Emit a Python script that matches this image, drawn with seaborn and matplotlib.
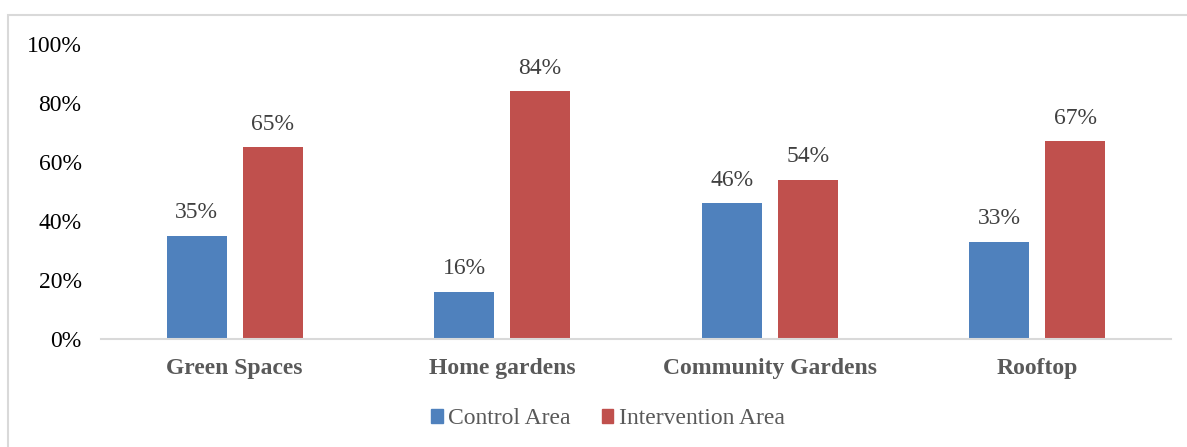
import matplotlib
matplotlib.use("Agg")
import matplotlib.pyplot as plt
import matplotlib.patches as mpatches
import seaborn as sns
import pandas as pd

categories = ["Green Spaces", "Home gardens", "Community Gardens", "Rooftop"]
series_names = ["Control Area", "Intervention Area"]
control = [0.35, 0.16, 0.46, 0.33]
intervention = [0.65, 0.84, 0.54, 0.67]
y_ticks = [0, 0.2, 0.4, 0.6, 0.8, 1.0]
y_tick_labels = ["0%", "20%", "40%", "60%", "80%", "100%"]

df = pd.DataFrame({
    "category": categories * 2,
    "area": [series_names[0]] * len(categories) + [series_names[1]] * len(categories),
    "share": control + intervention,
})

sns.set_theme(style="white")
plt.rcParams["font.family"] = ["Liberation Serif", "DejaVu Serif"]

FS = 17

fig = plt.figure(figsize=(11.87, 4.47), dpi=100)
ax = fig.add_axes([101 / 1187, 1 - 339 / 447, (1171 - 101) / 1187, (339 - 44) / 447])

palette = {series_names[0]: "#4F81BD", series_names[1]: "#C0504D"}
sns.barplot(data=df, x="category", y="share", hue="area", order=categories,
            hue_order=series_names, palette=palette, width=0.567, gap=0.21,
            saturation=1, linewidth=0, ax=ax, legend=False)

for container in ax.containers:
    ax.bar_label(container, labels=[f"{v * 100:.0f}%" for v in container.datavalues],
                 padding=9, fontsize=FS, color="#404040")

ax.set_ylim(0, 1.0)
ax.set_xlim(-0.5, len(categories) - 0.5)
ax.set_yticks(y_ticks)
ax.set_yticklabels(y_tick_labels, fontsize=FS, color="#000000")
ax.tick_params(axis="y", length=0, pad=14)
ax.tick_params(axis="x", length=0, pad=14)
for lbl in ax.get_xticklabels():
    lbl.set_fontweight("bold")
    lbl.set_fontsize(FS)
    lbl.set_color("#595959")
ax.set_xlabel("")
ax.set_ylabel("")
for side in ["left", "right", "top"]:
    ax.spines[side].set_visible(False)
ax.spines["bottom"].set_color("#D9D9D9")
ax.spines["bottom"].set_linewidth(1.5)

handles = [mpatches.Patch(color=palette[s], label=s) for s in series_names]
leg = fig.legend(handles=handles, loc="center", bbox_to_anchor=(608 / 1187, 1 - 419 / 447),
                 ncol=2, frameon=False, fontsize=FS, handlelength=0.5, handleheight=0.5,
                 handletextpad=0.22, columnspacing=1.3)
for t in leg.get_texts():
    t.set_color("#595959")

# chart area outline
fig.patches.append(mpatches.Rectangle((8 / 1187, -0.1), 1.2, 1 - 15 / 447 + 0.1,
                                      transform=fig.transFigure, fill=False,
                                      edgecolor="#D9D9D9", linewidth=1.5))

fig.savefig("out.png", dpi=100)
